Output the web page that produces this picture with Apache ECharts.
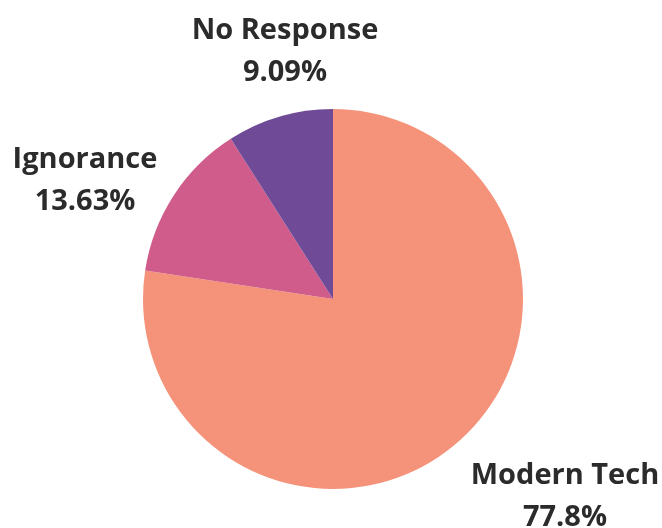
<!DOCTYPE html>
<html><head><meta charset="utf-8">
<script src="https://cdn.jsdelivr.net/npm/echarts@6/dist/echarts.min.js"></script>
<style>html,body{margin:0;padding:0;background:#fff}#c{width:662px;height:528px}</style>
</head><body><div id="c"></div>
<script>
const categories = ["Modern Tech", "Ignorance", "No Response"];
const values = [77.8, 13.63, 9.09];
const colors = ["#F5937A", "#CF5C8B", "#6E4A97"];
const labelSpots = [[565, 497], [85, 181], [285, 52]];

const chart = echarts.init(document.getElementById('c'), null, {renderer: 'canvas'});
chart.setOption({
  animation: false,
  series: [{
    type: 'pie',
    center: [333, 299],
    radius: 190,
    startAngle: 90,
    clockwise: true,
    avoidLabelOverlap: false,
    data: categories.map((n, i) => ({name: n, value: values[i], itemStyle: {color: colors[i]}})),
    label: {
      show: true,
      position: 'outside',
      formatter: p => p.name + '\n' + p.value + '%',
      fontFamily: 'Open Sans',
      fontWeight: 'bold',
      fontSize: 29,
      lineHeight: 42,
      color: '#2b2b2b',
      align: 'center',
      overflow: 'none',
      width: 300
    },
    labelLine: {show: false},
    labelLayout: p => ({x: labelSpots[p.dataIndex][0], y: labelSpots[p.dataIndex][1], align: 'center', verticalAlign: 'middle'}),
    emphasis: {disabled: true}
  }]
});
</script></body></html>
